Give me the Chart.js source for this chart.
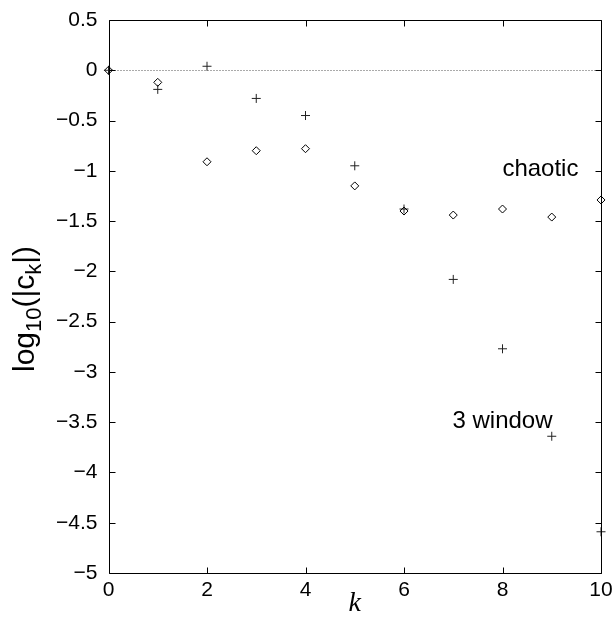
<!DOCTYPE html>
<html><head><meta charset="utf-8">
<script src="https://cdn.jsdelivr.net/npm/chart.js@4/dist/chart.umd.min.js"></script>
<style>html,body{margin:0;padding:0;background:#fff}#wrap{width:615px;height:617px}</style>
</head><body><div id="wrap"><canvas id="c" width="615" height="617"></canvas></div>
<script>
// ---- data ----
const kValues = [0, 1, 2, 3, 4, 5, 6, 7, 8, 9, 10];
const chaoticLog = [0, -0.12, -0.91, -0.80, -0.78, -1.15, -1.40, -1.44, -1.38, -1.46, -1.29];
const window3Log = [0, -0.19, 0.04, -0.28, -0.45, -0.95, -1.38, -2.08, -2.77, -3.64, -4.59];
const xTickValues = [0, 2, 4, 6, 8, 10];
const yTickValues = [0.5, 0, -0.5, -1, -1.5, -2, -2.5, -3, -3.5, -4, -4.5, -5];
const annotationTexts = ['chaotic', '3 window'];
const annotationK = [8.77, 8.0];
const annotationV = [-0.99, -3.49];

const SANS = '"Liberation Sans", Arial, Helvetica, sans-serif';

const framePlugin = {
  id: 'frame',
  beforeDatasetsDraw(chart) {
    const {ctx, chartArea: a, scales: {y}} = chart;
    const y0 = Math.round(y.getPixelForValue(0)) + 0.5;
    ctx.save();
    ctx.strokeStyle = '#555';
    ctx.lineWidth = 1;
    ctx.setLineDash([1, 2]);
    ctx.beginPath();
    ctx.moveTo(a.left, y0);
    ctx.lineTo(a.right, y0);
    ctx.stroke();
    ctx.restore();
  },
  afterDatasetsDraw(chart) {
    const {ctx, chartArea: a, scales: {x, y}} = chart;
    const L = Math.round(a.left) + 0.5, R = Math.round(a.right) + 0.5;
    const T = Math.round(a.top) + 0.5, B = Math.round(a.bottom) + 0.5;
    const tl = 6;
    ctx.save();
    ctx.strokeStyle = '#000';
    ctx.lineWidth = 1;
    ctx.beginPath();
    ctx.rect(L, T, R - L, B - T);
    xTickValues.forEach(v => {
      const px = Math.round(x.getPixelForValue(v)) + 0.5;
      ctx.moveTo(px, B); ctx.lineTo(px, B - tl);
      ctx.moveTo(px, T); ctx.lineTo(px, T + tl);
    });
    yTickValues.forEach(v => {
      const py = Math.round(y.getPixelForValue(v)) + 0.5;
      ctx.moveTo(L, py); ctx.lineTo(L + tl, py);
      ctx.moveTo(R, py); ctx.lineTo(R - tl, py);
    });
    ctx.stroke();
    ctx.restore();
  },
  afterDraw(chart) {
    const {ctx, scales: {x, y}} = chart;
    ctx.save();
    ctx.fillStyle = '#000';
    ctx.textAlign = 'center';
    ctx.textBaseline = 'middle';
    ctx.font = '24px ' + SANS;
    annotationTexts.forEach((t, i) => {
      ctx.fillText(t, x.getPixelForValue(annotationK[i]), y.getPixelForValue(annotationV[i]));
    });
    // y-axis title with subscripts: log10(|ck|)
    const parts = [
      ['log', 30, 0], ['10', 22, 7], ['(|c', 30, 0], ['k', 22, 7], ['|)', 30, 0]
    ];
    let total = 0;
    parts.forEach(p => { ctx.font = p[1] + 'px ' + SANS; total += ctx.measureText(p[0]).width; });
    ctx.translate(30, 309);
    ctx.rotate(-Math.PI / 2);
    ctx.textAlign = 'left';
    ctx.textBaseline = 'alphabetic';
    let cx = -total / 2;
    parts.forEach(p => {
      ctx.font = p[1] + 'px ' + SANS;
      ctx.fillText(p[0], cx, 4 + p[2]);
      cx += ctx.measureText(p[0]).width;
    });
    ctx.restore();
  }
};

new Chart(document.getElementById('c'), {
  type: 'scatter',
  data: {
    datasets: [
      {
        label: 'chaotic',
        data: kValues.map((k, i) => ({x: k, y: chaoticLog[i]})),
        pointStyle: 'rectRot', pointRadius: 4,
        borderColor: '#000', backgroundColor: 'rgba(0,0,0,0)', borderWidth: 1, clip: false
      },
      {
        label: '3 window',
        data: kValues.map((k, i) => ({x: k, y: window3Log[i]})),
        pointStyle: 'cross', pointRadius: 4.5,
        borderColor: '#222', backgroundColor: '#222', borderWidth: 1, clip: false
      }
    ]
  },
  options: {
    responsive: false, animation: false, devicePixelRatio: 1,
    layout: {padding: {left: 0, right: 14, top: 20, bottom: 0}},
    plugins: {legend: {display: false}, tooltip: {enabled: false}},
    scales: {
      x: {
        type: 'linear', min: 0, max: 10,
        afterBuildTicks: s => { s.ticks = xTickValues.map(v => ({value: v})); },
        grid: {display: false, drawTicks: false}, border: {display: false},
        ticks: {font: {family: SANS, size: 21}, color: '#000', padding: 5, maxRotation: 0, autoSkip: false},
        title: {display: true, text: 'k', color: '#000',
          font: {family: '"Liberation Serif", "Times New Roman", serif', style: 'italic', size: 28},
          padding: {top: 0, bottom: -3}},
        afterFit: s => { s.height = 44; s.paddingLeft = 0; s.paddingRight = 0; }
      },
      y: {
        type: 'linear', min: -5, max: 0.5,
        afterBuildTicks: s => { s.ticks = yTickValues.map(v => ({value: v})); },
        grid: {display: false, drawTicks: false}, border: {display: false},
        ticks: {font: {family: SANS, size: 21}, color: '#000', padding: 11, autoSkip: false,
          callback: v => String(v).replace('-', '\u2212')},
        afterFit: s => { s.width = 108.5; s.paddingTop = 0; s.paddingBottom = 0; }
      }
    }
  },
  plugins: [framePlugin]
});
</script>
</body></html>
